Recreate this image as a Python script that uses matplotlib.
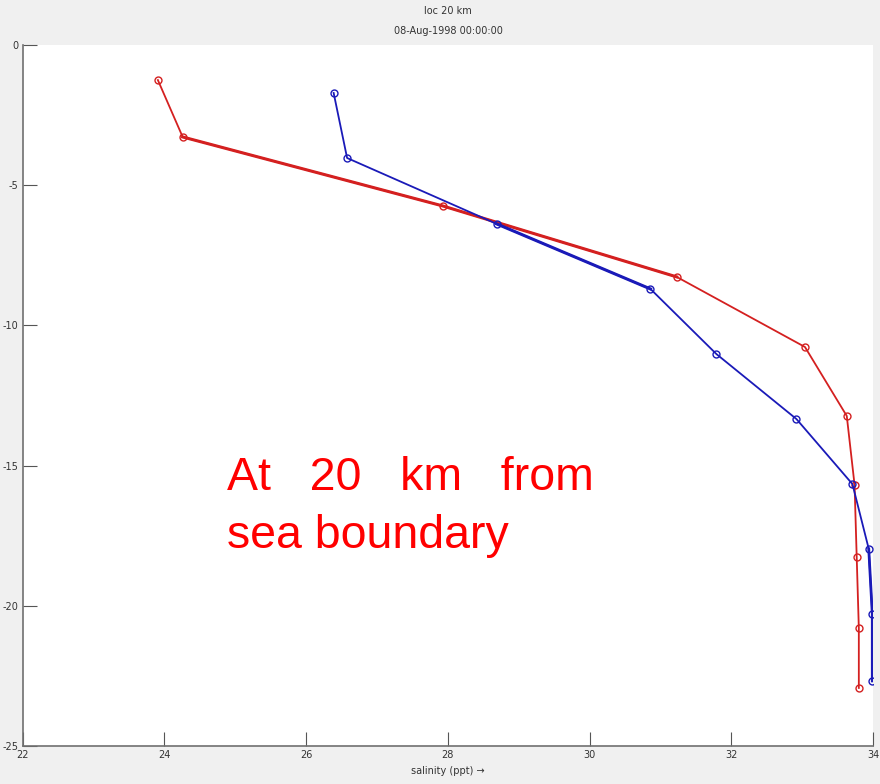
import matplotlib
matplotlib.use("Agg")
import matplotlib.pyplot as plt

# Salinity profiles (ppt) against depth (m) at the 20 km station
red_salinity = [23.91, 24.26, 27.93, 31.23, 33.04, 33.63, 33.74, 33.77, 33.80, 33.80]
red_depth = [-1.25, -3.28, -5.74, -8.27, -10.77, -13.23, -15.69, -18.26, -20.79, -22.93]

blue_salinity = [26.39, 26.58, 28.69, 30.86, 31.79, 32.92, 33.71, 33.94, 33.99, 33.99]
blue_depth = [-1.71, -4.03, -6.38, -8.70, -11.02, -13.34, -15.66, -17.97, -20.29, -22.68]

x_ticks = [22, 24, 26, 28, 30, 32, 34]
y_ticks = [0, -5, -10, -15, -20, -25]

title_lines = ["loc 20 km", "08-Aug-1998 00:00:00"]
x_label = "salinity (ppt) \u2192"
note_lines = ["At   20   km   from", "sea boundary"]

small_font = ["Liberation Sans Narrow", "DejaVu Sans"]

fig = plt.figure(figsize=(8.8, 7.84), dpi=100, facecolor="#f0f0f0")
ax = fig.add_axes([22.5 / 880, 1 - 746 / 784, (873 - 22.5) / 880, (746 - 45) / 784])
ax.set_facecolor("white")

red_c = "#d42020"
blue_c = "#1a1ab8"

ax.plot(red_salinity, red_depth, color=red_c, lw=1.3, marker="o", ms=5,
        mfc="none", mec=red_c, mew=1.0)
ax.plot(red_salinity[1:4], red_depth[1:4], color=red_c, lw=2.2)
ax.plot(blue_salinity, blue_depth, color=blue_c, lw=1.3, marker="o", ms=5,
        mfc="none", mec=blue_c, mew=1.0)
ax.plot(blue_salinity[2:4], blue_depth[2:4], color=blue_c, lw=2.2)
ax.plot(blue_salinity[7:], blue_depth[7:], color=blue_c, lw=2.0)

ax.set_xlim(22, 34)
ax.set_ylim(-25, 0)
ax.set_xticks(x_ticks)
ax.set_yticks(y_ticks)
ax.set_xticklabels([str(t) for t in x_ticks], fontsize=7, family=small_font, color="#333333")
ax.set_yticklabels([str(t) for t in y_ticks], fontsize=7, family=small_font, color="#333333")
ax.tick_params(direction="in", length=10, width=0.8, color="#555555", pad=3)

for side in ("top", "right"):
    ax.spines[side].set_visible(False)
for side in ("left", "bottom"):
    ax.spines[side].set_color("#707070")
    ax.spines[side].set_linewidth(1.2)

ax.set_xlabel(x_label, fontsize=7, family=small_font, color="#333333", labelpad=4)

fig.text(448 / 880, 1 - 11 / 784, title_lines[0], ha="center", va="center",
         fontsize=7, family=small_font, color="#333333")
fig.text(448 / 880, 1 - 31 / 784, title_lines[1], ha="center", va="center",
         fontsize=7, family=small_font, color="#333333")

for line, y_frac in zip(note_lines, [0.3652, 0.2825]):
    ax.text(0.240, y_frac, line, transform=ax.transAxes, ha="left", va="baseline",
            fontsize=33.5, color="#ff0000", family=["Liberation Sans", "DejaVu Sans"])

fig.savefig("out.png", dpi=100, facecolor=fig.get_facecolor())
